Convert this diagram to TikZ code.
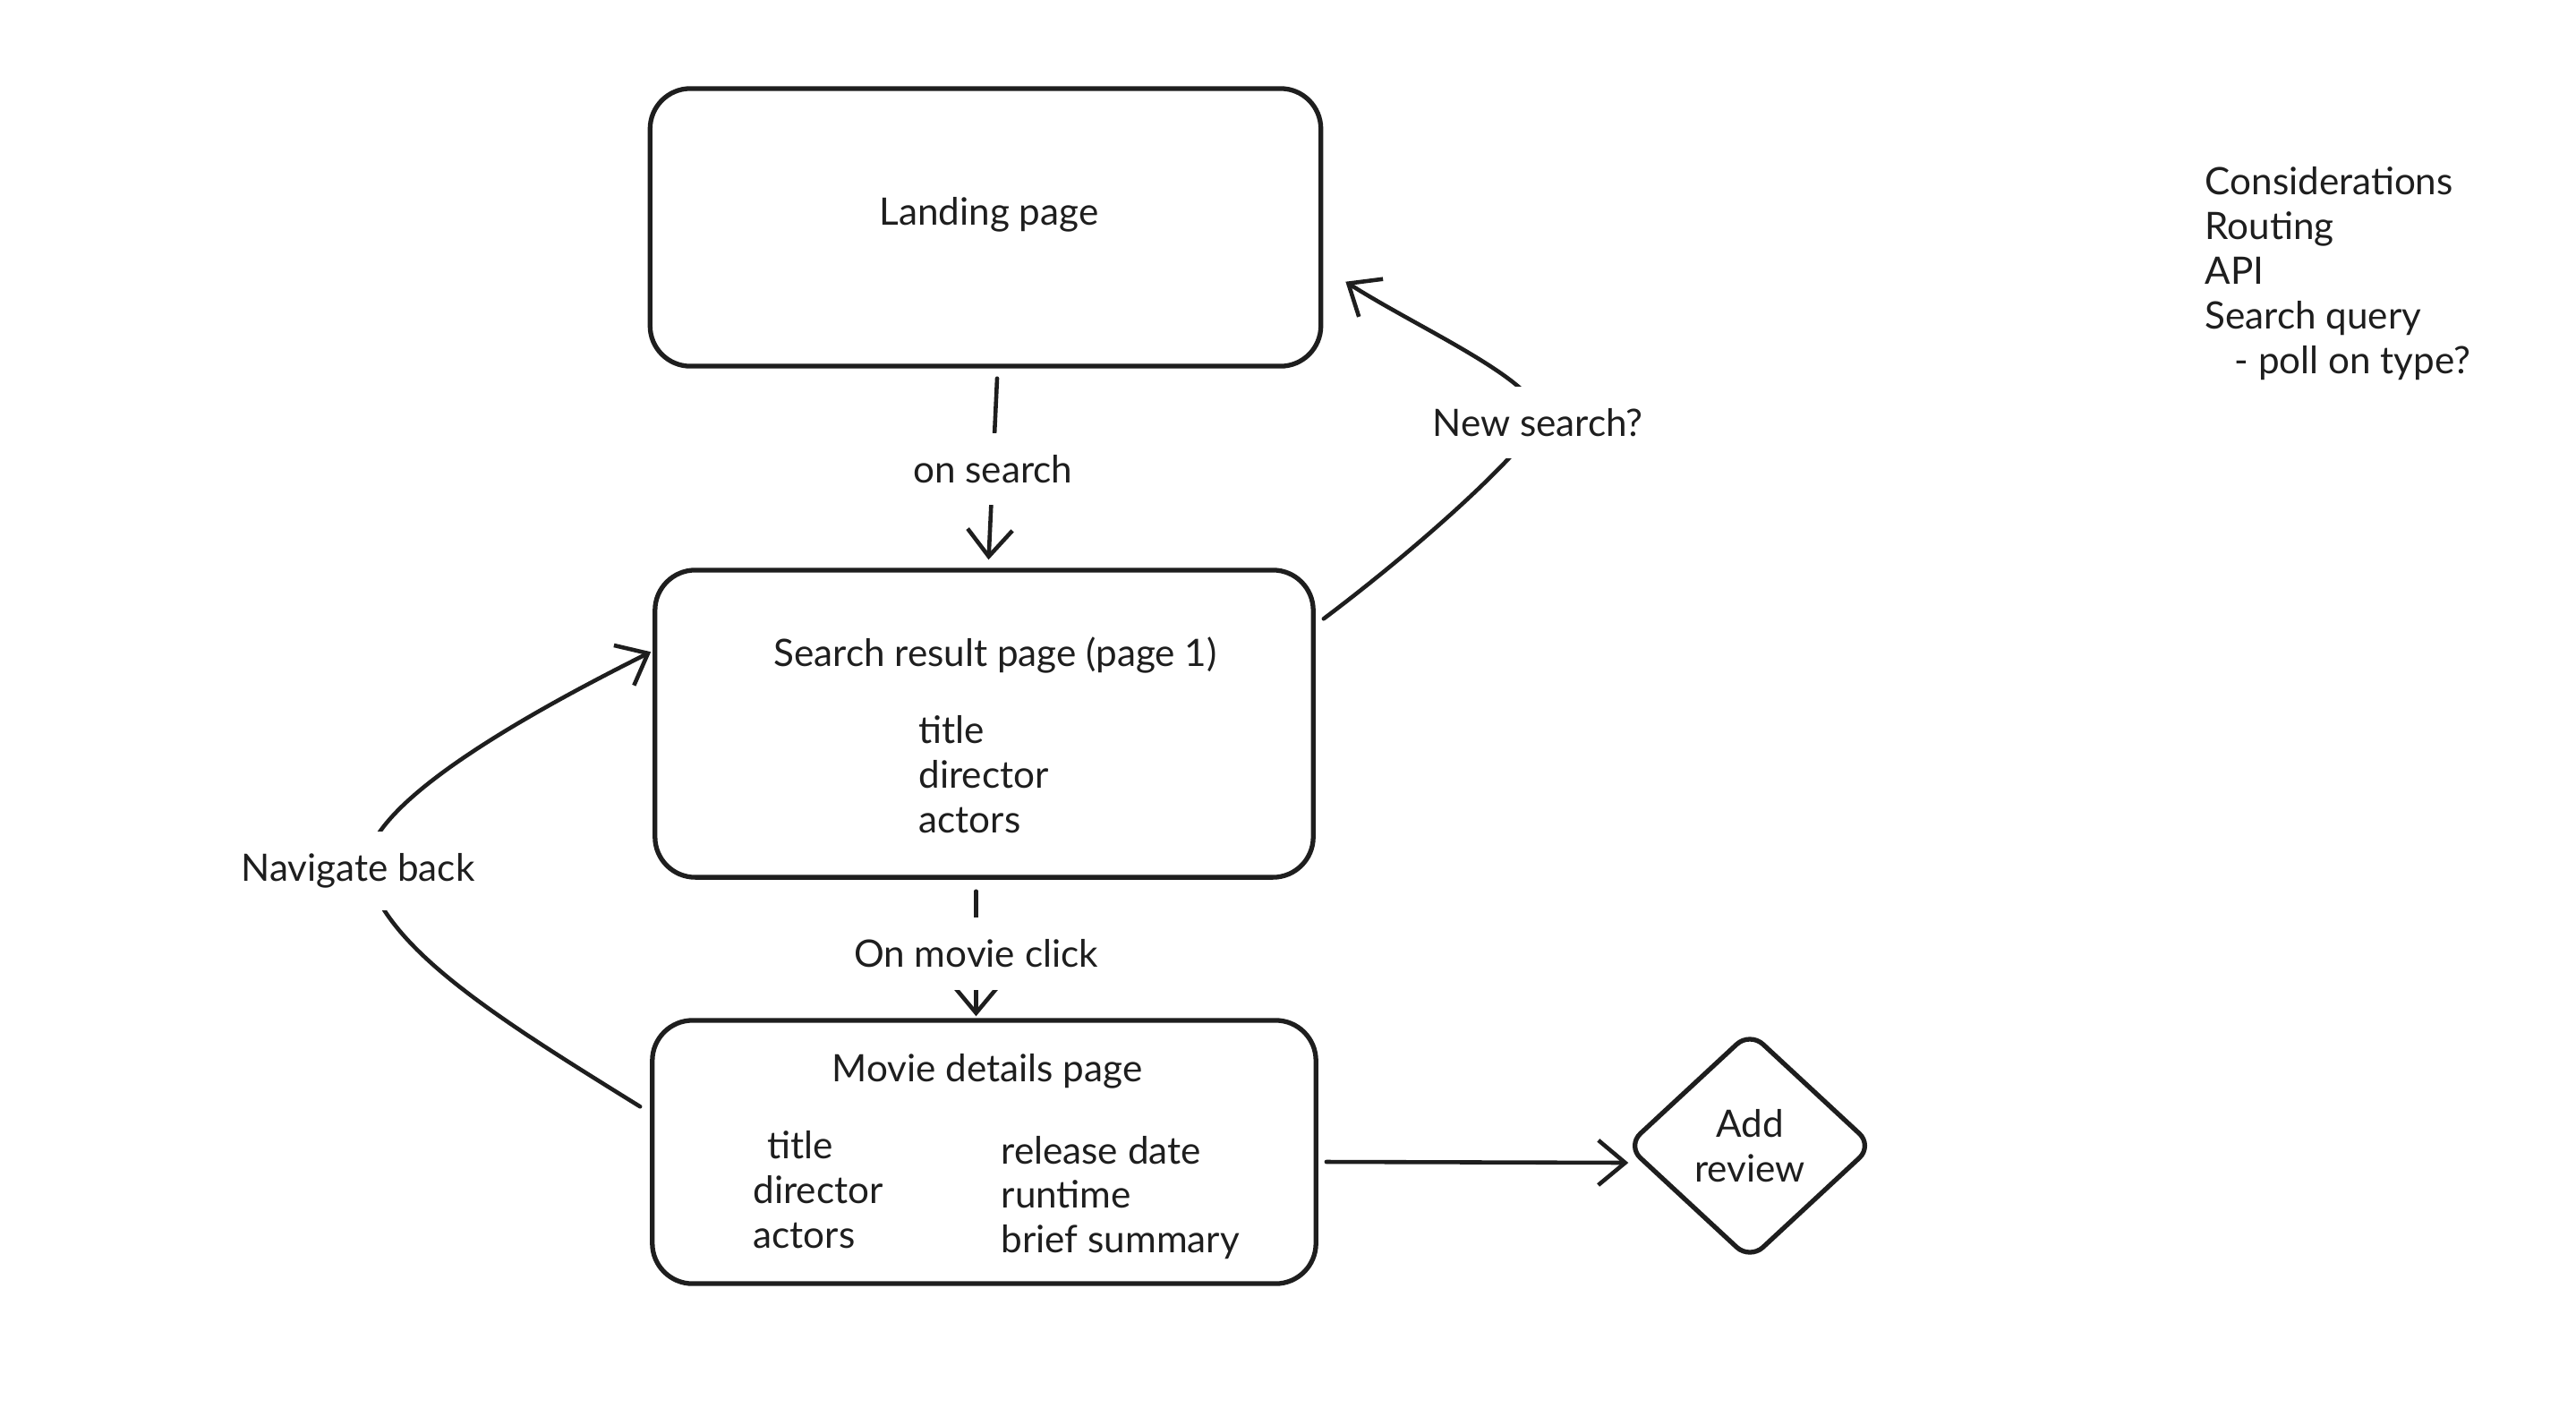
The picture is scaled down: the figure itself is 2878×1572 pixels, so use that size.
\documentclass[tikz,border=0pt]{standalone}
\usepackage{fontspec}
\setmainfont{Lato}
\usetikzlibrary{arrows.meta,shapes.geometric,calc}
\definecolor{ink}{HTML}{1E1E1E}
\begin{document}
\begin{tikzpicture}[x=0.01cm,y=-0.01cm,
  box/.style={draw=ink, line width=1.5pt, rounded corners=0.45cm, inner sep=0pt},
  lbl/.style={text=ink, font=\fontsize{12}{14.2}\selectfont, inner sep=0pt},
  cut/.style={lbl, fill=white, inner sep=7pt},
  conn/.style={draw=ink, line width=1.3pt, line cap=round, -{Straight Barb[length=0.3cm,width=0.5cm]}}]
\useasboundingbox[fill=white] (0,0) rectangle (2878,1572);

% boxes
\node[box, minimum width=7.49cm, minimum height=3.10cm] (landing) at (1101,254) {};
\node[box, minimum width=7.35cm, minimum height=3.43cm] (search) at (1099.5,808.5) {};
\node[box, minimum width=7.41cm, minimum height=2.94cm] (movie) at (1099.5,1287) {};
\node[diamond, draw=ink, line width=1.5pt, rounded corners=0.2cm, minimum width=2.76cm, minimum height=2.56cm,
      inner sep=0pt, align=center, text=ink, font=\fontsize{12}{14.2}\selectfont] (review) at (1955,1280) {Add\\review};

% box texts
\node[lbl] (landingtxt) at (1105,240) {Landing page};
\node[lbl] (searchtxt) at (1112,732) {Search result page (page 1)};
\node[lbl, anchor=west, align=left] (searchlist) at (1026,865) {title\\director\\actors};
\node[lbl] (movietxt) at (1103,1197) {Movie details page};
\node[lbl, anchor=west, align=left] (movieleft) at (841,1329) {\hspace{0.16cm}title\\director\\actors};
\node[lbl, anchor=west, align=left] (movieright) at (1118,1338) {release date\\runtime\\brief summary};

% notes
\node[lbl, anchor=north west, align=left] (notes) at (2463,186) {Considerations\\Routing\\API\\Search query\\\hspace{0.33cm}- poll on type?};

% connectors
\draw[conn] ($(landing.south)+(13,11)$) -- node[cut] (onsearch) {on search} ($(search.north)+(5,-9)$);
\draw[conn] ($(search.south)+(-9,13)$) -- node[cut] (onclick) {On movie click} ($(movie.north)+(-9,-2)$);
\draw[conn] ($(search.north east)+(9,57)$) .. controls (1600,600) and (1700,505) .. (1718,472)
  node[cut] (newsearch) {New search?}
  .. controls (1734,432) and (1590,370) .. ($(landing.south east)+(25,-97)$);
\draw[conn] ($(movie.north west)+(-11,99)$) .. controls (560,1140) and (430,1060) .. (410,973)
  node[cut, xshift=-0.1cm] (navback) {Navigate back}
  .. controls (400,900) and (600,792) .. ($(search.north west)+(-2,94)$);
\draw[conn] ($(movie.east)+(9,11)$) -- ($(review.west)+(5,19)$);
\end{tikzpicture}
\end{document}
